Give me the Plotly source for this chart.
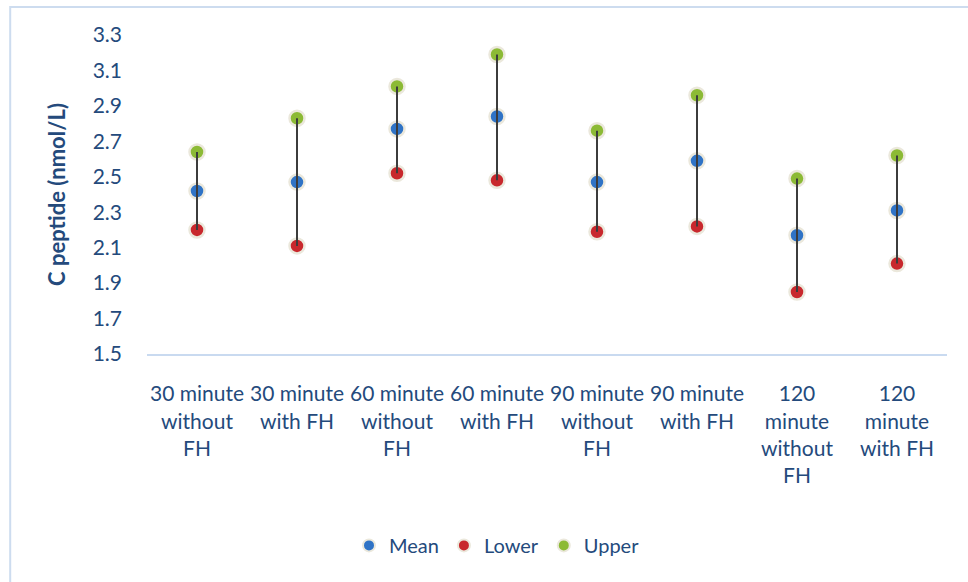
import plotly.graph_objects as go

categories = ["30 minute<br>without<br>FH", "30 minute<br>with FH", "60 minute<br>without<br>FH",
              "60 minute<br>with FH", "90 minute<br>without<br>FH", "90 minute<br>with FH",
              "120<br>minute<br>without<br>FH", "120<br>minute<br>with FH"]
mean_vals = [2.42, 2.47, 2.77, 2.84, 2.47, 2.59, 2.17, 2.31]
lower_vals = [2.20, 2.11, 2.52, 2.48, 2.19, 2.22, 1.85, 2.01]
upper_vals = [2.64, 2.83, 3.01, 3.19, 2.76, 2.96, 2.49, 2.62]
y_ticks = [1.5, 1.7, 1.9, 2.1, 2.3, 2.5, 2.7, 2.9, 3.1, 3.3]

FONT = "Lato"
TXT = "#244a7c"

fig = go.Figure()

def add_series(name, vals, color):
    fig.add_trace(go.Scatter(
        x=categories, y=vals, mode="markers", name=name,
        marker=dict(size=15, color=color, line=dict(color="#ebe8dc", width=2.5)),
    ))

add_series("Mean", mean_vals, "#2f73c6")
add_series("Lower", lower_vals, "#c8282d")
add_series("Upper", upper_vals, "#8cba35")

# high-low lines
hx, hy = [], []
for c, lo, hi in zip(categories, lower_vals, upper_vals):
    hx += [c, c, None]
    hy += [lo, hi, None]
fig.add_trace(go.Scatter(x=hx, y=hy, mode="lines", showlegend=False,
                         line=dict(color="#3c3c3c", width=2), hoverinfo="skip"))

fig.update_layout(
    width=968, height=582,
    margin=dict(l=147, r=21, t=35, b=228),
    paper_bgcolor="white", plot_bgcolor="white",
    font=dict(family=FONT, size=20, color=TXT),
    legend=dict(orientation="h", x=0.4375, xanchor="center", y=-0.6, yanchor="middle",
                font=dict(size=20, color=TXT), itemsizing="constant", traceorder="normal",
                itemwidth=30),
    shapes=[dict(type="rect", xref="paper", yref="paper",
                 x0=-0.171, x1=1.028, y0=-0.8, y1=1.088,
                 line=dict(color="#cddcef", width=2), fillcolor="rgba(0,0,0,0)", layer="below")],
)
fig.update_xaxes(
    type="category", showgrid=False, zeroline=False,
    showline=True, linecolor="#c9daf0", linewidth=2,
    ticks="", ticklabelstandoff=20, tickfont=dict(size=21, color=TXT),
    range=[-0.5, 7.5],
)
fig.update_yaxes(
    range=[1.5, 3.3], tickvals=y_ticks, ticktext=[f"{v:.1f}" for v in y_ticks],
    showgrid=False, zeroline=False, showline=False, ticks="",
    ticklabelstandoff=24, tickfont=dict(size=21, color=TXT),
    title=dict(text="<b>C peptide (nmol/L)</b>", font=dict(size=22, color=TXT), standoff=20),
)

fig.write_html("out.html")
